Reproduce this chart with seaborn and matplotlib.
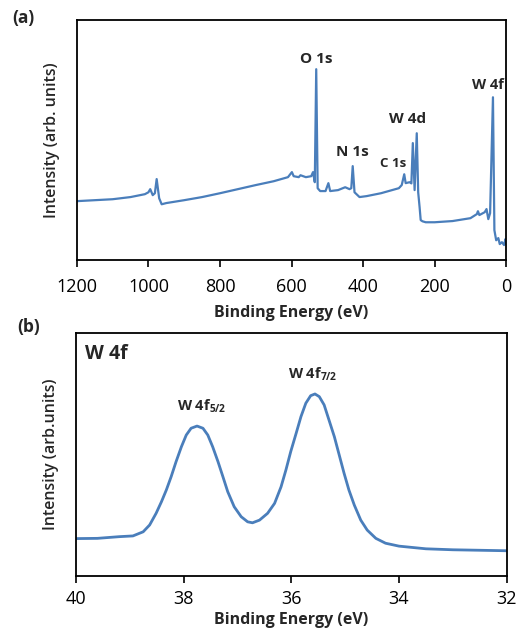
import numpy as np
import pandas as pd
import matplotlib
matplotlib.use("Agg")
import matplotlib.pyplot as plt
import seaborn as sns

# (a) survey spectrum (binding energy in eV, intensity in arb. units)
survey_be = [1200, 1150, 1100, 1050, 1010, 1000, 995, 988, 982, 977, 970, 963, 950, 900, 850,
             800, 750, 700, 650, 610, 599, 594, 580, 575, 560, 545, 540, 535, 531, 527, 520,
             505, 497, 492, 470, 450, 438, 433, 429, 424, 410, 390, 350, 300, 292, 285, 281,
             270, 265, 261, 256, 250, 246, 242, 239, 234, 225, 200, 150, 100, 82, 79, 75, 60,
             55, 50, 45, 37, 33, 28, 22, 18, 12, 6, 2, 0]
survey_int = [24.6, 25.0, 25.4, 26.3, 27.5, 28.3, 29.6, 27.1, 27.9, 33.8, 25.8, 23.3, 23.8, 25.0, 26.3,
              27.9, 29.6, 31.3, 32.9, 34.6, 36.7, 35.0, 34.6, 35.4, 34.6, 35.0, 36.7, 32.5, 79.6, 30.0, 28.8,
              28.8, 32.1, 28.8, 29.2, 30.4, 29.6, 30.0, 39.2, 28.3, 26.3, 26.7, 27.9, 30.0, 31.3, 35.8, 32.1,
              32.5, 32.0, 48.8, 29.2, 52.9, 28.3, 22.0, 16.7, 16.2, 15.8, 15.8, 16.3, 17.5, 19.2, 20.4, 18.8, 20.0,
              21.3, 17.1, 19.6, 67.9, 12.5, 8.3, 9.2, 6.7, 7.5, 6.3, 8.8, 6.7]
survey_labels = ["O 1s", "N 1s", "C 1s", "W 4d", "W 4f"]

# (b) W 4f high resolution spectrum
w4f_be = [40.0, 39.6, 39.19, 38.94, 38.75, 38.63, 38.51, 38.41, 38.32, 38.23, 38.14, 38.04,
          37.95, 37.86, 37.75, 37.64, 37.55, 37.46, 37.36, 37.27, 37.18, 37.06, 36.93, 36.81,
          36.72, 36.59, 36.44, 36.31, 36.19, 36.10, 36.01, 35.91, 35.82, 35.73, 35.64, 35.56,
          35.48, 35.39, 35.30, 35.20, 35.11, 35.02, 34.93, 34.83, 34.71, 34.59, 34.43, 34.25,
          34.0, 33.5, 33.0, 32.5, 32.0]
w4f_int = [15.4, 15.5, 16.2, 16.5, 18.2, 21.0, 25.8, 30.6, 35.4, 40.9, 47.0, 53.2,
           58.0, 60.8, 61.7, 60.8, 58.0, 53.2, 47.0, 40.9, 34.7, 28.5, 24.4, 22.3,
           21.9, 23.0, 25.8, 29.9, 36.7, 43.6, 51.2, 58.7, 65.6, 71.1, 74.2, 74.9,
           73.8, 70.4, 64.2, 57.3, 49.8, 42.3, 35.4, 29.2, 23.0, 18.9, 15.5, 13.5,
           12.3, 11.2, 10.8, 10.6, 10.4]

blue = "#4A7EBB"

sns.set_style("white")
plt.rcParams["font.family"] = ["Open Sans", "DejaVu Sans"]
plt.rcParams["mathtext.fontset"] = "custom"
plt.rcParams["mathtext.rm"] = "Open Sans:bold"
plt.rcParams["mathtext.it"] = "Open Sans:bold"

fig = plt.figure(figsize=(5.16, 6.33), dpi=100)
ax_a = fig.add_axes([0.149, 0.589, 0.832, 0.379])
ax_b = fig.add_axes([0.147, 0.090, 0.835, 0.384])

df_a = pd.DataFrame({"be": survey_be, "intensity": survey_int})
df_b = pd.DataFrame({"be": w4f_be, "intensity": w4f_int})

sns.lineplot(data=df_a, x="be", y="intensity", ax=ax_a, color=blue, lw=1.6, sort=False)
sns.lineplot(data=df_b, x="be", y="intensity", ax=ax_b, color=blue, lw=2.0, sort=False)

ax_a.set_xlim(1200, 0)
ax_a.set_ylim(0, 100)
ax_a.set_xticks(np.arange(0, 1201, 200))
ax_b.set_xlim(40, 32)
ax_b.set_ylim(0, 100)
ax_b.set_xticks(np.arange(32, 41, 2))

for ax, ylab, tpad, xpad in [(ax_a, "Intensity (arb. units)", 8, 6),
                             (ax_b, "Intensity (arb.units)", 5, 3)]:
    ax.set_yticks([])
    ax.set_xlabel("Binding Energy (eV)", fontsize=11.5, fontweight="bold", labelpad=xpad)
    ax.set_ylabel(ylab, fontsize=11.5, fontweight="semibold", labelpad=12)
    ax.tick_params(axis="x", direction="out", length=5, width=1.2, labelsize=13,
                   bottom=True, pad=tpad, colors="black")
    for s in ax.spines.values():
        s.set_linewidth(1.3)
        s.set_color("black")

# peak labels in (a)
label_pos = [(532, 84, 11), (430, 45, 11), (317, 40.5, 9.5), (275, 59, 11), (50, 73, 10.5)]
for lab, (x, y, fs) in zip(survey_labels, label_pos):
    ax_a.text(x, y, lab, ha="center", va="center", fontsize=fs, fontweight="bold")

ax_b.text(39.43, 91.5, "W 4f", ha="center", va="center", fontsize=14, fontweight="bold")
ax_b.text(37.67, 70.0, r"W 4f$_{5/2}$", ha="center", va="center", fontsize=10.5, fontweight="bold")
ax_b.text(35.6, 83.0, r"W 4f$_{7/2}$", ha="center", va="center", fontsize=10.5, fontweight="bold")

fig.text(12 / 516, 1 - 18 / 633, "(a)", ha="left", va="center", fontsize=12.5, fontweight="bold")
fig.text(17 / 516, 1 - 327 / 633, "(b)", ha="left", va="center", fontsize=12.5, fontweight="bold")

fig.savefig("out.png", dpi=100)
